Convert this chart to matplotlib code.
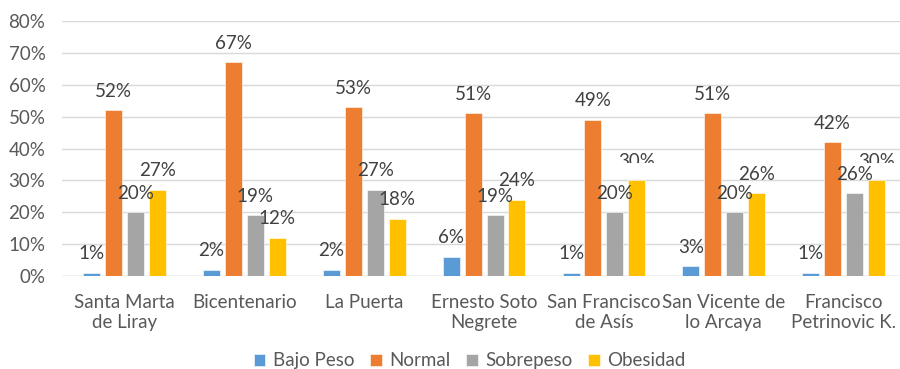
import matplotlib.pyplot as plt
import numpy as np
from matplotlib.patches import Rectangle
from matplotlib.ticker import PercentFormatter
from matplotlib.transforms import offset_copy

plt.rcParams["font.family"] = ["Lato", "DejaVu Sans"]

escuelas = ["Santa Marta\nde Liray", "Bicentenario", "La Puerta", "Ernesto Soto\nNegrete",
            "San Francisco\nde Asís", "San Vicente de\nlo Arcaya", "Francisco\nPetrinovic K."]
bajo_peso = [1, 2, 2, 6, 1, 3, 1]
normal = [52, 67, 53, 51, 49, 51, 42]
sobrepeso = [20, 19, 27, 19, 20, 20, 26]
obesidad = [27, 12, 18, 24, 30, 26, 30]

series = [
    ("Bajo Peso", bajo_peso, "#5B9BD5"),
    ("Normal", normal, "#ED7D31"),
    ("Sobrepeso", sobrepeso, "#A5A5A5"),
    ("Obesidad", obesidad, "#FFC000"),
]

TXT = "#595959"
LBL = "#404040"
FS = 13.5

fig = plt.figure(figsize=(9, 3.69), dpi=100)
ax = fig.add_axes([0.069, 0.252, 0.935, 0.691])

x = np.arange(len(escuelas))
step, width = 0.183, 0.142
above = offset_copy(ax.transData, fig=fig, y=19, units="dots")
for i, (name, vals, color) in enumerate(series):
    xs = x + (i - 1.5) * step
    ax.bar(xs, vals, width, color=color, label=name, zorder=2,
           edgecolor="white", linewidth=0.4)
    for xi, v in zip(xs, vals):
        t = ax.text(xi, v, f"{v}%", transform=above, ha="center", va="center",
                    fontsize=FS, color=LBL, zorder=4)
        # the two 30% labels get cut off along their lower half
        if name == "Obesidad" and v == 30:
            t.set_clip_on(True)
            t.set_clip_path(Rectangle((-1, 35.4), 10, 100, transform=ax.transData))

ax.set_xlim(-0.52, 6.5)
ax.set_ylim(0, 80)
ax.set_yticks(range(0, 81, 10))
ax.yaxis.set_major_formatter(PercentFormatter(decimals=0))
ax.set_xticks(x)
ax.set_xticklabels(escuelas, fontsize=FS, color=TXT, linespacing=1.2)
ax.tick_params(axis="y", labelsize=FS, labelcolor=TXT, length=0, pad=12)
ax.tick_params(axis="x", length=0, pad=13)
ax.grid(axis="y", color="#D9D9D9", lw=1, zorder=0)
for s in ax.spines.values():
    s.set_visible(False)
ax.axhline(0, color="#D9D9D9", lw=1, zorder=1)

fig.legend(loc="center", bbox_to_anchor=(0.522, 0.022), ncol=4, frameon=False,
           fontsize=FS, labelcolor=TXT, handlelength=0.6, handleheight=0.6,
           handletextpad=0.4, columnspacing=0.85)

fig.savefig("out.png", dpi=100)
